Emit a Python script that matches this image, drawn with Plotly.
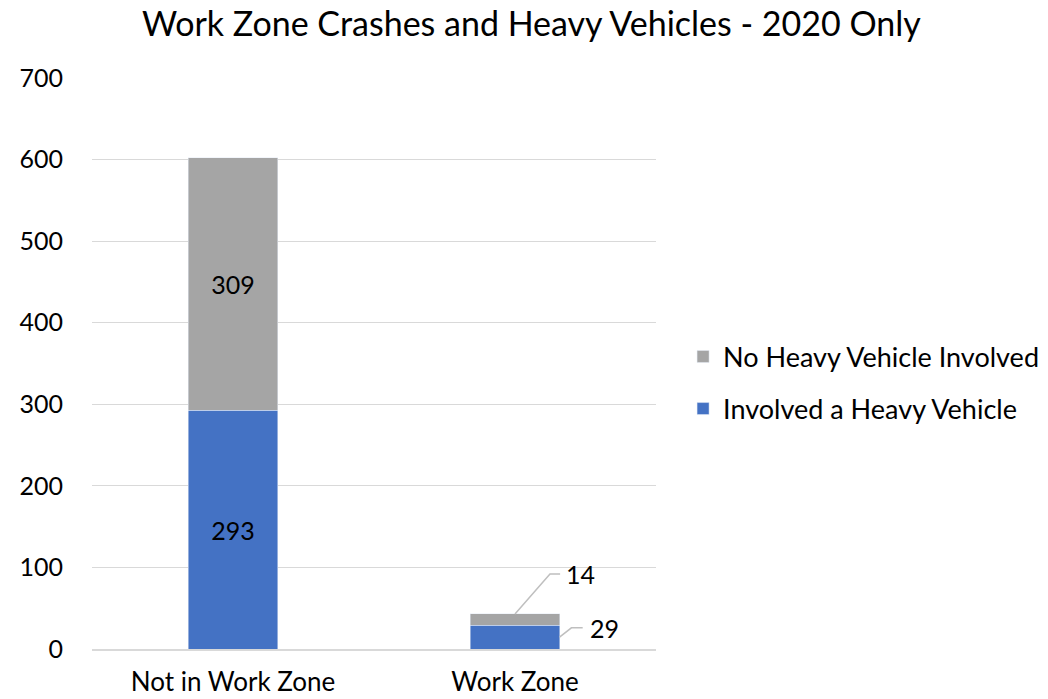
import plotly.graph_objects as go

categories = ["Not in Work Zone", "Work Zone"]
involved_heavy = [293, 29]
no_heavy = [309, 14]
y_ticks = [0, 100, 200, 300, 400, 500, 600, 700]

FONT = "Lato"
BLUE = "#4472C4"
GRAY = "#A5A5A5"
x_pos = [0, 1]

fig = go.Figure()
fig.add_trace(go.Bar(
    x=x_pos, y=involved_heavy, name="Involved a Heavy Vehicle",
    marker_color=BLUE, width=0.316, legendgroup="a", legendrank=2,
    text=[str(involved_heavy[0]), ""], textposition="inside",
    insidetextanchor="middle", textfont=dict(color="black", size=25, family=FONT),
    hoverinfo="name+y",
))
fig.add_trace(go.Bar(
    x=x_pos, y=no_heavy, name="No Heavy Vehicle Involved",
    marker_color=GRAY, width=0.316, legendgroup="b", legendrank=1,
    text=[str(no_heavy[0]), ""], textposition="inside",
    insidetextanchor="middle", textfont=dict(color="black", size=25, family=FONT),
    hoverinfo="name+y",
))

# Leader-line labels for the small Work Zone segments
wz = 1
half_w = 0.316 / 2
top_wz = involved_heavy[wz] + no_heavy[wz]
line_style = dict(color="#BFBFBF", width=1.5)

# 14 label: from the top of the gray segment, up and right
y14 = top_wz + 49
fig.add_shape(type="path", xref="x", yref="y", line=line_style,
              path=f"M {wz} {top_wz} L {wz + 0.124} {y14} L {wz + 0.16} {y14}")
fig.add_annotation(x=wz + 0.175, y=y14, text=str(no_heavy[wz]), showarrow=False,
                   xanchor="left", yanchor="middle",
                   font=dict(family=FONT, size=25, color="black"))

# 29 label: from the right edge of the blue segment
ymid29 = involved_heavy[wz] / 2
y29 = involved_heavy[wz] - 3
fig.add_shape(type="path", xref="x", yref="y", line=line_style,
              path=f"M {wz + half_w} {ymid29} L {wz + 0.2} {y29} L {wz + 0.24} {y29}")
fig.add_annotation(x=wz + 0.26, y=y29, text=str(involved_heavy[wz]), showarrow=False,
                   xanchor="left", yanchor="middle",
                   font=dict(family=FONT, size=25, color="black"))

fig.update_layout(
    barmode="stack",
    width=1048, height=699,
    margin=dict(l=92, r=392, t=78, b=50, autoexpand=False),
    paper_bgcolor="white", plot_bgcolor="white",
    font=dict(family=FONT, size=25, color="black"),
    title=dict(text="Work Zone Crashes and Heavy Vehicles - 2020 Only",
               x=0.507, xanchor="center", y=0.966, yanchor="middle",
               font=dict(family=FONT, size=34, color="black")),
    legend=dict(x=1.048, xanchor="left", y=0.466, yanchor="middle",
                traceorder="grouped", tracegroupgap=14,
                font=dict(family=FONT, size=27, color="black"),
                itemwidth=30),
    showlegend=True,
)
fig.update_xaxes(range=[-0.5, 1.5], tickvals=x_pos, ticktext=categories,
                 showgrid=False, showline=True, linecolor="#D9D9D9", linewidth=1.5,
                 ticks="", ticklabelstandoff=9, zeroline=False, automargin=False,
                 tickfont=dict(family=FONT, size=26, color="black"))
fig.update_yaxes(range=[0, 700], tickvals=y_ticks, showgrid=True, gridcolor="#D9D9D9",
                 gridwidth=1.3, zeroline=False, showline=False, ticks="",
                 ticklabelstandoff=28, automargin=False)

fig.write_html("out.html")
